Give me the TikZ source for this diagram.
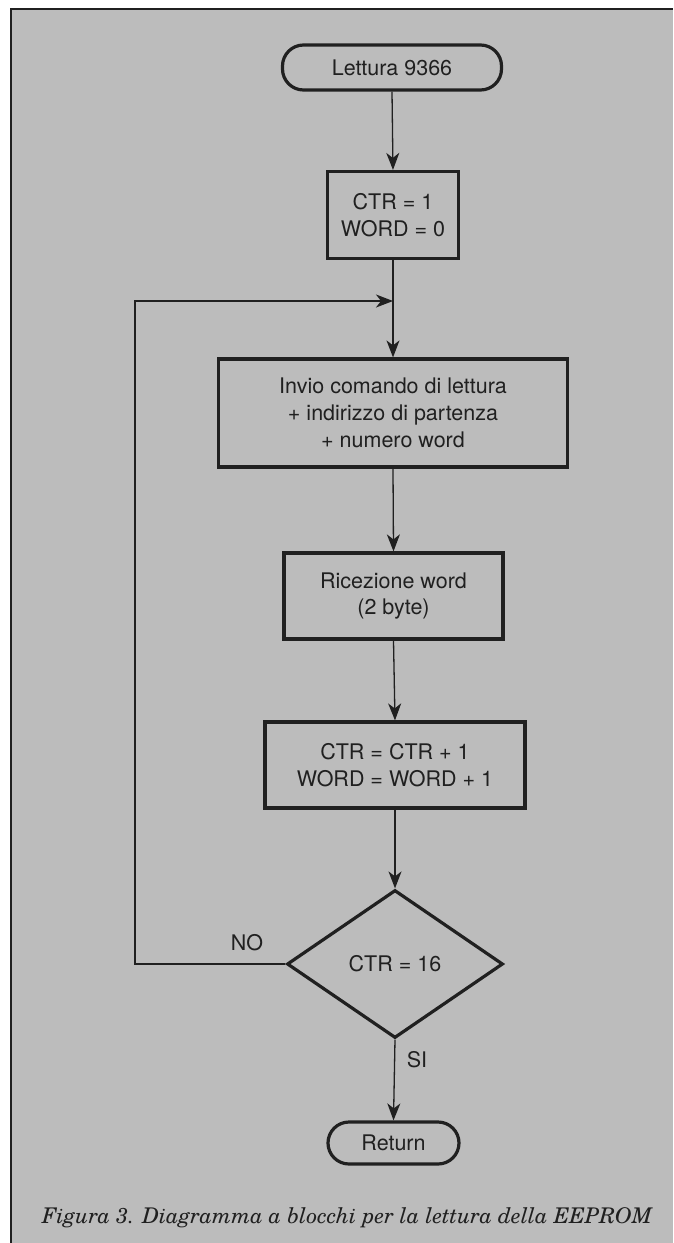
\documentclass[tikz,border=0pt]{standalone}
\usepackage{fontspec}
\setsansfont{TeX Gyre Heros}
\newfontfamily\capfont{texgyreschola}[Extension=.otf,UprightFont=*-regular,ItalicFont=*-italic,BoldFont=*-bold,BoldItalicFont=*-bolditalic]
\usetikzlibrary{shapes.geometric,arrows.meta}
\definecolor{paper}{RGB}{188,188,188}
\definecolor{ink}{RGB}{32,32,32}
\tikzset{
  blk/.style={draw=ink,line width=3.2pt,inner sep=0pt,align=center,text=ink,
    font=\sffamily\fontsize{21.5}{26.7}\selectfont},
  term/.style={blk,rounded corners=21pt},
  dec/.style={blk,diamond},
  flow/.style={draw=ink,line width=1.3pt,-{Stealth[length=17pt,width=13pt,inset=5pt]}},
  lbl/.style={text=ink,font=\sffamily\fontsize{21.5}{26.7}\selectfont,inner sep=0pt}
}
\begin{document}
\begin{tikzpicture}[x=1pt,y=-1pt]
\useasboundingbox (0,0) rectangle (673,1243);
\fill[white] (0,0) rectangle (673,1243);
\fill[paper] (10,9) rectangle (673,1243);
\draw[ink,line width=2.2pt] (11,1243) -- (11,9) -- (673,9);

\node[term,minimum width=219pt,minimum height=45pt] (start) at (392,67.5) {Lettura 9366};
\node[blk,minimum width=131pt,minimum height=87pt] (init) at (393,215) {CTR = 1\\WORD = 0};
\node[blk,minimum width=349pt,minimum height=108pt] (send) at (393,413) {Invio comando di lettura\\+ indirizzo di partenza\\+ numero word};
\node[blk,minimum width=219pt,minimum height=86pt] (recv) at (393.5,596) {Ricezione word\\(2 byte)};
\node[blk,minimum width=260pt,minimum height=86pt] (incr) at (395,765) {CTR = CTR + 1\\WORD = WORD + 1};
\node[dec,minimum width=216pt,minimum height=148pt] (test) at (395,964) {CTR = 16};
\node[term,minimum width=131pt,minimum height=42pt] (ret) at (393.5,1143) {Return};

\coordinate (join) at (init.south |- 0,301);
\coordinate (lc1) at (135,964);
\coordinate (lc2) at (135,301);

\draw[flow] (start.south) -- (init.north);
\draw[flow] (init.south) -- (send.north);
\draw[flow] (send.south) -- (recv.north);
\draw[flow] (recv.south) -- (incr.north);
\draw[flow] (incr.south) -- (test.north);
\draw[flow] (test.west) -- (lc1) -- (lc2) -- (join);
\draw[flow] (test.south) -- (ret.north);

\node[lbl] (no) at (247,943) {NO};
\node[lbl] (si) at (417,1060) {SI};

\node[text=ink,inner sep=0pt,anchor=base west,font=\capfont\itshape\fontsize{21.6}{26}\selectfont] (cap) at (42,1223)
  {Figura 3. Diagramma a blocchi per la lettura della EEPROM};
\end{tikzpicture}
\end{document}
